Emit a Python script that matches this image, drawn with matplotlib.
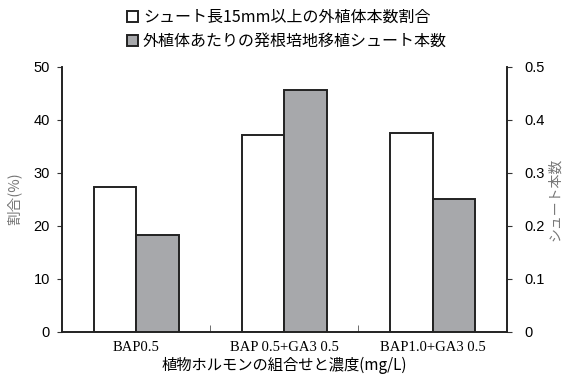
import numpy as np
import matplotlib
matplotlib.use("Agg")
import matplotlib.pyplot as plt
from matplotlib.patches import Patch

# datos
categorias = ["BAP0.5", "BAP 0.5+GA3 0.5", "BAP1.0+GA3 0.5"]
porcentaje = [27.2, 37.1, 37.5]      # eje izquierdo (%)
brotes = [0.182, 0.456, 0.25]        # eje derecho
serie1 = "シュート長15mm以上の外植体本数割合"
serie2 = "外植体あたりの発根培地移植シュート本数"

jp = ["Noto Sans CJK JP", "DejaVu Sans"]
plt.rcParams["font.family"] = jp

fig = plt.figure(figsize=(5.63, 3.76), dpi=100)
ax = fig.add_axes([0.110, 0.118, 0.790, 0.705])
ax2 = ax.twinx()

x = np.arange(1, len(categorias) + 1)
w = 0.287
gris = "#a7a8ab"
ax.bar(x - w / 2, porcentaje, w, color="white", edgecolor="#222222", linewidth=1.4, zorder=3)
ax2.bar(x + w / 2, brotes, w, color=gris, edgecolor="#222222", linewidth=1.4, zorder=3)

ax.set_xlim(0.5, 3.5)
ax.set_ylim(0, 50)
ax2.set_ylim(0, 0.5)
ax.set_yticks(np.arange(0, 51, 10))
ax2.set_yticks([0, 0.1, 0.2, 0.3, 0.4, 0.5])
ax2.set_yticklabels(["0", "0.1", "0.2", "0.3", "0.4", "0.5"])

ax.set_xticks(x)
ax.set_xticklabels(categorias, family=["Liberation Serif"], fontsize=10.5)
ax.set_xticks([1.5, 2.5], minor=True)
ax.tick_params(axis="x", which="major", length=0, pad=7)
ax.tick_params(axis="x", which="minor", direction="in", length=5, color="#555555")

for a in (ax, ax2):
    a.spines["top"].set_visible(False)
    for s in ("left", "right", "bottom"):
        a.spines[s].set_color("#222222")
        a.spines[s].set_linewidth(1.2)
    for lab in a.get_yticklabels():
        lab.set_family(["Liberation Sans"])
        lab.set_fontsize(10.5)
ax.tick_params(axis="y", length=3.5, color="#333333", pad=5)
ax2.tick_params(axis="y", length=3.5, color="#333333", pad=9)

ax.set_ylabel("割合(%)", color="#777777", fontsize=10.5, labelpad=9)
ax2.set_ylabel("シュート本数", color="#777777", fontsize=10, rotation=90, labelpad=3)
ax.set_xlabel("植物ホルモンの組合せと濃度(mg/L)", fontsize=11, labelpad=2)

handles = [Patch(facecolor="white", edgecolor="#222222", linewidth=1.4),
           Patch(facecolor=gris, edgecolor="#222222", linewidth=1.4)]
fig.legend(handles, [serie1, serie2], loc="upper left", bbox_to_anchor=(0.2, 1.015),
           frameon=False, fontsize=11.5, handlelength=0.7, handleheight=0.7,
           handletextpad=0.3, labelspacing=0.45)

fig.savefig("out.png", dpi=100)
